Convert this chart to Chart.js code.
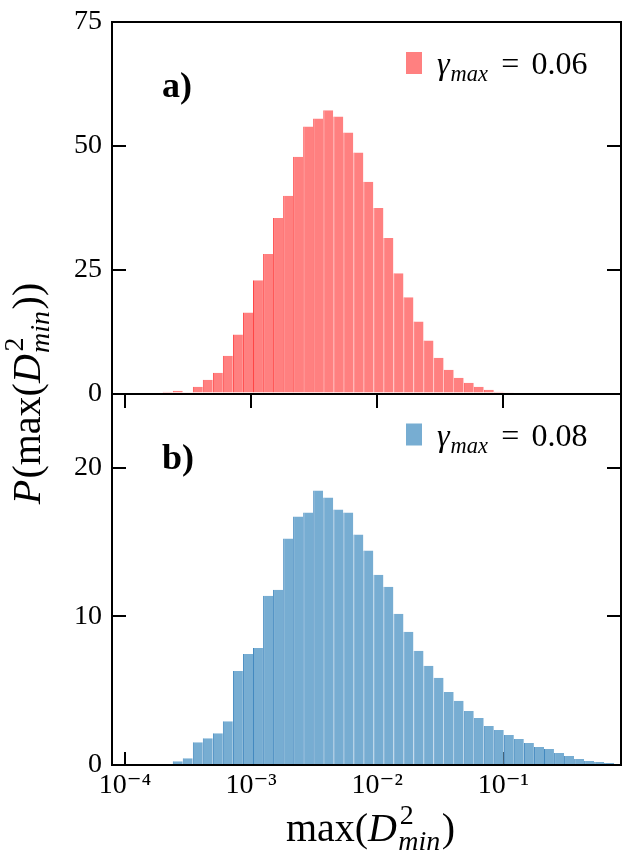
<!DOCTYPE html>
<html><head><meta charset="utf-8">
<script src="https://cdn.jsdelivr.net/npm/chart.js@4.4.1/dist/chart.umd.min.js"></script>
<style>html,body{margin:0;padding:0;background:#fff;}canvas{display:block;}</style>
</head><body>
<canvas id="c" width="627" height="855"></canvas>
<script>
// log10 of histogram bin centres (shared bins for both panels)
const binCentersLog = [-3.661,-3.581,-3.502,-3.422,-3.343,-3.263,-3.184,-3.104,-3.024,-2.945,
  -2.865,-2.786,-2.706,-2.627,-2.547,-2.468,-2.388,-2.308,-2.229,-2.149,
  -2.070,-1.990,-1.911,-1.831,-1.752,-1.672,-1.593,-1.513,-1.433,-1.354,
  -1.274,-1.195,-1.115,-1.036,-0.956,-0.877,-0.797,-0.717,-0.638,-0.558,
  -0.479,-0.399,-0.320,-0.240,-0.161];
// panel a) gamma_max = 0.06
const countsA = [0.34,0.54,0.14,1.35,2.8,4.2,7.64,11.9,16.37,22.86,
  28.14,35.44,39.9,47.82,53.9,55.5,57.16,55.94,52.7,48.63,
  42.75,37.47,31.39,24.28,19.41,14.54,10.69,7.24,4.8,3.18,
  2.16,1.35,0.74,0.34,0.14,null,null,null,null,null,
  null,null,null,null,null];
// panel b) gamma_max = 0.08
const countsB = [null,0.25,0.45,1.53,1.8,2.14,2.95,6.33,7.47,7.88,
  11.39,11.79,15.24,16.72,16.99,18.48,18.0,17.19,16.99,15.51,
  14.43,12.81,12.0,10.18,8.97,7.69,6.68,5.87,4.92,4.32,
  3.64,3.17,2.63,2.36,2.02,1.75,1.48,1.21,1.08,0.81,
  0.61,0.40,0.27,0.20,0.13];
const xTickValues = [1e-4, 1e-3, 1e-2, 1e-1];
const xTickLabels = ['10⁻⁴', '10⁻³', '10⁻²', '10⁻¹'];
const yTicksA = [0, 25, 50, 75];
const yTicksB = [0, 10, 20];
const seriesLabels = ['γₘₐₓ = 0.06', 'γₘₐₓ = 0.08'];
const seriesValueText = ['0.06', '0.08'];
const panelLabels = ['a)', 'b)'];

const FAM = '"Liberation Serif", "DejaVu Serif", serif';
const fnt = (s, it, b) => (it ? 'italic ' : '') + (b ? 'bold ' : '') + s + 'px ' + FAM;
Chart.defaults.font.family = FAM;
Chart.defaults.color = '#000';

const XMIN = 7.9e-5, XMAX = 0.857;
const TICK = 14;

function partWidth(ctx, p, size) {
  if (p.gap !== undefined) return p.gap * size;
  if (p.sup !== undefined || p.sub !== undefined) {
    const s = size * 0.7; let w1 = 0, w2 = 0;
    if (p.sup) { ctx.font = fnt(s, false); w1 = ctx.measureText(p.sup).width; }
    if (p.sub) { ctx.font = fnt(s, true); w2 = ctx.measureText(p.sub).width; }
    return Math.max(w1, w2) + size * 0.04;
  }
  ctx.font = fnt(size, p.it, p.b);
  return ctx.measureText(p.t).width + (p.it ? size * 0.03 : 0);
}
function richMeasure(ctx, parts, size) {
  return parts.reduce((w, p) => w + partWidth(ctx, p, size), 0);
}
function richDraw(ctx, parts, size, x, y) {
  ctx.textAlign = 'left'; ctx.textBaseline = 'alphabetic'; ctx.fillStyle = '#000';
  let cx = x;
  for (const p of parts) {
    const w = partWidth(ctx, p, size);
    if (p.gap !== undefined) { cx += w; continue; }
    if (p.sup !== undefined || p.sub !== undefined) {
      const s = size * 0.7;
      if (p.sup) { ctx.font = fnt(s, false); ctx.fillText(p.sup, cx + size * 0.04, y - size * 0.42); }
      if (p.sub) { ctx.font = fnt(s, true); ctx.fillText(p.sub, cx, y + size * 0.22); }
    } else {
      ctx.font = fnt(size, p.it, p.b); ctx.fillText(p.t, cx, y);
    }
    cx += w;
  }
}

const xTitleParts = [{t:'max('}, {t:'D', it:true}, {sup:'2', sub:'min'}, {t:')'}];
const yTitleParts = [{t:'P', it:true}, {t:'(max('}, {t:'D', it:true}, {sup:'2', sub:'min'}, {t:'))'}];

const decorPlugin = {
  id: 'decor',
  afterDraw(chart) {
    const ctx = chart.ctx;
    const area = chart.chartArea;
    const panels = [chart.scales.yA, chart.scales.yB];
    ctx.save();
    panels.forEach((sc, i) => {
      const top = sc.top;
      ctx.fillStyle = '#000';
      ctx.font = fnt(36, false, true);
      ctx.textAlign = 'left'; ctx.textBaseline = 'alphabetic';
      ctx.fillText(panelLabels[i], area.left + 50, top + 75);
      const ds = chart.data.datasets[i];
      const px = area.right - 215;
      ctx.fillStyle = ds.backgroundColor;
      ctx.fillRect(px, top + 30, 16, 22);
      const parts = [{t:'γ', it:true}, {sub:'max'}, {gap:0.38}, {t:'='}, {gap:0.38}, {t:seriesValueText[i]}];
      richDraw(ctx, parts, 32, px + 31, top + 52);
    });
    const ts = 40;
    const xw = richMeasure(ctx, xTitleParts, ts);
    richDraw(ctx, xTitleParts, ts, (area.left + area.right) / 2 - xw / 2 + 4, 841);
    const yw = richMeasure(ctx, yTitleParts, ts);
    ctx.translate(40, (area.top + area.bottom) / 2);
    ctx.rotate(-Math.PI / 2);
    richDraw(ctx, yTitleParts, ts, -yw / 2, 0);
    ctx.restore();
  }
};

const mkData = (arr) => binCentersLog.map((c, i) => ({x: Math.pow(10, c), y: arr[i]})).filter(d => d.y !== null);

const gridIn = (len) => ({display: true, offset: false, drawOnChartArea: false, drawTicks: true, tickLength: len, tickWidth: 2, tickColor: '#000', color: '#000', lineWidth: 2});
const border = {display: true, width: 2, color: '#000'};
const setTicks = (vals) => (sc) => { sc.ticks = vals.map(v => ({value: v})); };
const fitY = (w) => (sc) => { sc.width = w; sc.paddingTop = 0; sc.paddingBottom = 0; };

new Chart(document.getElementById('c'), {
  type: 'bar',
  data: {
    datasets: [
      {label: seriesLabels[0], data: mkData(countsA), yAxisID: 'yA', xAxisID: 'x',
       backgroundColor: '#ff8080', borderColor: '#ff4545',
       borderWidth: {left: 1, right: 0, top: 0, bottom: 0}, borderSkipped: false,
       grouped: false, barPercentage: 1, categoryPercentage: 1, inflateAmount: 0},
      {label: seriesLabels[1], data: mkData(countsB), yAxisID: 'yB', xAxisID: 'x',
       backgroundColor: '#77add2', borderColor: '#4389c0',
       borderWidth: {left: 1, right: 0, top: 0, bottom: 0}, borderSkipped: false,
       grouped: false, barPercentage: 1, categoryPercentage: 1, inflateAmount: 0}
    ]
  },
  options: {
    responsive: false,
    animation: false,
    devicePixelRatio: 1,
    layout: {padding: {top: 22, right: 6, left: 0, bottom: 0}},
    plugins: {legend: {display: false}, tooltip: {enabled: false}},
    scales: {
      x: {
        type: 'logarithmic', position: 'bottom', min: XMIN, max: XMAX, offset: false,
        afterBuildTicks: setTicks(xTickValues),
        ticks: {autoSkip: false, maxRotation: 0, padding: 17, font: {size: 28},
                callback: (v) => { const i = xTickValues.findIndex(t => Math.abs(Math.log10(t) - Math.log10(v)) < 1e-6); return i >= 0 ? xTickLabels[i] : ''; }},
        grid: gridIn(-13), border: border,
        afterFit: (sc) => { sc.height = 90; sc.paddingLeft = 0; sc.paddingRight = 0; }
      },
      xMid: {
        type: 'logarithmic', position: {yB: 25}, min: XMIN, max: XMAX, offset: false,
        afterBuildTicks: setTicks(xTickValues),
        ticks: {display: false},
        grid: gridIn(13), border: border
      },
      xTop: {
        type: 'logarithmic', position: 'top', min: XMIN, max: XMAX, offset: false,
        ticks: {display: false},
        grid: {display: true, offset: false, drawOnChartArea: false, drawTicks: false},
        border: border,
        afterFit: (sc) => { sc.height = 0; sc.paddingLeft = 0; sc.paddingRight = 0; }
      },
      yB: {
        type: 'linear', position: 'left', stack: 'L', stackWeight: 1, min: 0, max: 25,
        afterBuildTicks: setTicks(yTicksB),
        ticks: {font: {size: 28}, padding: 24},
        grid: gridIn(-TICK), border: border,
        afterFit: fitY(112)
      },
      yA: {
        type: 'linear', position: 'left', stack: 'L', stackWeight: 1, min: 0, max: 75,
        afterBuildTicks: setTicks(yTicksA),
        ticks: {font: {size: 28}, padding: 24},
        grid: gridIn(-TICK), border: border,
        afterFit: fitY(112)
      },
      yAR: {
        type: 'linear', position: 'right', stack: 'R', stackWeight: 1, min: 0, max: 75,
        afterBuildTicks: setTicks(yTicksA),
        ticks: {display: false},
        grid: gridIn(-TICK), border: border,
        afterFit: fitY(0)
      },
      yBR: {
        type: 'linear', position: 'right', stack: 'R', stackWeight: 1, min: 0, max: 25,
        afterBuildTicks: setTicks(yTicksB),
        ticks: {display: false},
        grid: gridIn(-TICK), border: border,
        afterFit: fitY(0)
      }
    }
  },
  plugins: [decorPlugin]
});
</script>
</body></html>
